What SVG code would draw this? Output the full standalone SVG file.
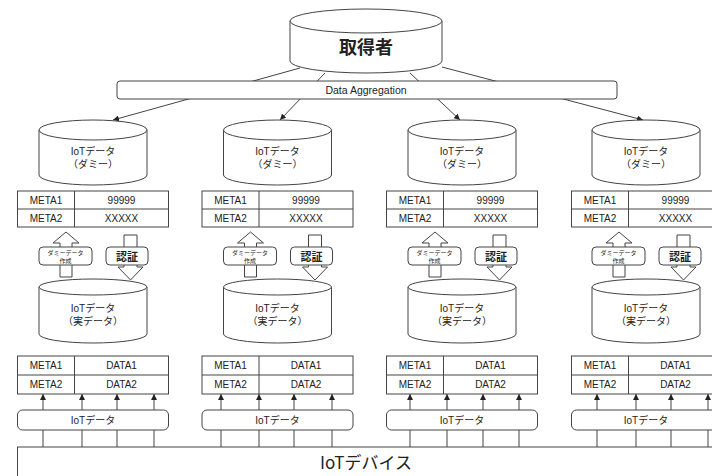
<svg xmlns="http://www.w3.org/2000/svg" width="712" height="476" viewBox="0 0 712 476">
<defs>
<style>
.s{fill:#fff;stroke:#444;stroke-width:1}
.ln{fill:none;stroke:#444;stroke-width:1}
.t{font-family:"Liberation Sans","Noto Sans CJK JP",sans-serif;fill:#222;text-anchor:middle}
.j{font-family:"Noto Sans CJK JP",sans-serif;fill:#222;text-anchor:middle}
.m{font-size:10px}
.c{font-size:10px}
.sm{font-size:6px}
.a{marker-end:url(#ah)}
</style>
<marker id="ah" viewBox="0 0 10 10" refX="10" refY="5" markerWidth="6" markerHeight="6" markerUnits="userSpaceOnUse" orient="auto">
<path d="M0,0 L10,5 L0,10 z" fill="#222"/>
</marker>
</defs>
<rect width="712" height="476" fill="#fff"/>

<g id="connectors">
<line class="ln a" x1="300" y1="68" x2="113" y2="120"/>
<line class="ln a" x1="325" y1="73" x2="280" y2="120"/>
<line class="ln a" x1="410" y1="73" x2="460" y2="120"/>
<line class="ln a" x1="442" y1="67" x2="643" y2="120"/>
<polygon class="s" points="60,277 60,243 53,243 66,232 79,243 72,243 72,277"/>
<polygon class="s" points="124,235 137,235 137,267 143,267 130.5,280 118,267 124,267"/>
<polygon class="s" points="244.5,277 244.5,243 237.5,243 250.5,232 263.5,243 256.5,243 256.5,277"/>
<polygon class="s" points="308.5,235 321.5,235 321.5,267 327.5,267 315,280 302.5,267 308.5,267"/>
<polygon class="s" points="429,277 429,243 422,243 435,232 448,243 441,243 441,277"/>
<polygon class="s" points="493,235 506,235 506,267 512,267 499.5,280 487,267 493,267"/>
<polygon class="s" points="613,277 613,243 606,243 619,232 632,243 625,243 625,277"/>
<polygon class="s" points="677,235 690,235 690,267 696,267 683.5,280 671,267 677,267"/>
<line class="ln a" x1="43" y1="447" x2="43" y2="394"/>
<line class="ln a" x1="82" y1="447" x2="82" y2="394"/>
<line class="ln a" x1="117" y1="447" x2="117" y2="394"/>
<line class="ln a" x1="154" y1="447" x2="154" y2="394"/>
<line class="ln a" x1="221" y1="447" x2="221" y2="394"/>
<line class="ln a" x1="259" y1="447" x2="259" y2="394"/>
<line class="ln a" x1="294" y1="447" x2="294" y2="394"/>
<line class="ln a" x1="332" y1="447" x2="332" y2="394"/>
<line class="ln a" x1="410" y1="447" x2="410" y2="394"/>
<line class="ln a" x1="447" y1="447" x2="447" y2="394"/>
<line class="ln a" x1="483" y1="447" x2="483" y2="394"/>
<line class="ln a" x1="519" y1="447" x2="519" y2="394"/>
<line class="ln a" x1="597" y1="447" x2="597" y2="394"/>
<line class="ln a" x1="636" y1="447" x2="636" y2="394"/>
<line class="ln a" x1="671" y1="447" x2="671" y2="394"/>
<line class="ln a" x1="708" y1="447" x2="708" y2="394"/>
</g>

<g id="acquirer">
<path class="s" d="M290,21 V61 A76,12 0 0 0 442,61 V21"/>
<ellipse class="s" cx="366" cy="21" rx="76" ry="12"/>
<text class="j" x="366" y="54" font-size="18" font-weight="bold">取得者</text>
</g>

<g id="aggregation">
<rect class="s" x="117" y="81" width="500" height="18" rx="3"/>
<text class="t" x="366" y="94" font-size="10.5">Data Aggregation</text>
</g>

<g id="dummy1">
<path class="s" d="M39,130 V175 A54,10 0 0 0 147,175 V130"/>
<ellipse class="s" cx="93" cy="130" rx="54" ry="10"/>
<text class="t c" x="93" y="155">IoTデータ</text>
<text class="t c" x="93" y="168">（ダミー）</text>
</g>
<g id="meta1">
<rect class="s" x="17.5" y="191" width="151" height="36"/>
<line class="ln" x1="17.5" y1="209" x2="168.5" y2="209"/>
<line class="ln" x1="74.5" y1="191" x2="74.5" y2="227"/>
<text class="t m" x="46" y="204">META1</text><text class="t m" x="121.5" y="204">99999</text>
<text class="t m" x="46" y="222">META2</text><text class="t m" x="121.5" y="222">XXXXX</text>
</g>
<g id="mkdummy1">
<rect class="s" x="39" y="247" width="53" height="18" rx="4"/>
<text class="t sm" x="65.5" y="254.5">ダミーデータ</text>
<text class="t sm" x="65.5" y="262.5">作成</text>
</g>
<g id="auth1">
<rect class="s" x="106" y="247" width="42" height="18" rx="4"/>
<text class="j" x="127" y="260.5" font-size="11" font-weight="bold">認証</text>
</g>
<g id="real1">
<path class="s" d="M39,287 V334 A54,9 0 0 0 147,334 V287"/>
<ellipse class="s" cx="93" cy="287" rx="54" ry="8"/>
<text class="t c" x="93" y="312">IoTデータ</text>
<text class="t c" x="93" y="325">（実データ）</text>
</g>
<g id="data1">
<rect class="s" x="17.5" y="356" width="151" height="38"/>
<line class="ln" x1="17.5" y1="375" x2="168.5" y2="375"/>
<line class="ln" x1="74.5" y1="356" x2="74.5" y2="394"/>
<text class="t m" x="46" y="369">META1</text><text class="t m" x="121.5" y="369">DATA1</text>
<text class="t m" x="46" y="388">META2</text><text class="t m" x="121.5" y="388">DATA2</text>
</g>
<g id="iot1">
<rect class="s" x="17.5" y="410" width="151" height="20" rx="5"/>
<text class="t c" x="93" y="424">IoTデータ</text>
</g>

<g id="dummy2">
<path class="s" d="M223.5,130 V175 A54,10 0 0 0 331.5,175 V130"/>
<ellipse class="s" cx="277.5" cy="130" rx="54" ry="10"/>
<text class="t c" x="277.5" y="155">IoTデータ</text>
<text class="t c" x="277.5" y="168">（ダミー）</text>
</g>
<g id="meta2">
<rect class="s" x="202" y="191" width="151" height="36"/>
<line class="ln" x1="202" y1="209" x2="353" y2="209"/>
<line class="ln" x1="259" y1="191" x2="259" y2="227"/>
<text class="t m" x="230.5" y="204">META1</text><text class="t m" x="306" y="204">99999</text>
<text class="t m" x="230.5" y="222">META2</text><text class="t m" x="306" y="222">XXXXX</text>
</g>
<g id="mkdummy2">
<rect class="s" x="223.5" y="247" width="53" height="18" rx="4"/>
<text class="t sm" x="250" y="254.5">ダミーデータ</text>
<text class="t sm" x="250" y="262.5">作成</text>
</g>
<g id="auth2">
<rect class="s" x="290.5" y="247" width="42" height="18" rx="4"/>
<text class="j" x="311.5" y="260.5" font-size="11" font-weight="bold">認証</text>
</g>
<g id="real2">
<path class="s" d="M223.5,287 V334 A54,9 0 0 0 331.5,334 V287"/>
<ellipse class="s" cx="277.5" cy="287" rx="54" ry="8"/>
<text class="t c" x="277.5" y="312">IoTデータ</text>
<text class="t c" x="277.5" y="325">（実データ）</text>
</g>
<g id="data2">
<rect class="s" x="202" y="356" width="151" height="38"/>
<line class="ln" x1="202" y1="375" x2="353" y2="375"/>
<line class="ln" x1="259" y1="356" x2="259" y2="394"/>
<text class="t m" x="230.5" y="369">META1</text><text class="t m" x="306" y="369">DATA1</text>
<text class="t m" x="230.5" y="388">META2</text><text class="t m" x="306" y="388">DATA2</text>
</g>
<g id="iot2">
<rect class="s" x="202" y="410" width="151" height="20" rx="5"/>
<text class="t c" x="277.5" y="424">IoTデータ</text>
</g>

<g id="dummy3">
<path class="s" d="M408,130 V175 A54,10 0 0 0 516,175 V130"/>
<ellipse class="s" cx="462" cy="130" rx="54" ry="10"/>
<text class="t c" x="462" y="155">IoTデータ</text>
<text class="t c" x="462" y="168">（ダミー）</text>
</g>
<g id="meta3">
<rect class="s" x="386.5" y="191" width="151" height="36"/>
<line class="ln" x1="386.5" y1="209" x2="537.5" y2="209"/>
<line class="ln" x1="443.5" y1="191" x2="443.5" y2="227"/>
<text class="t m" x="415" y="204">META1</text><text class="t m" x="490.5" y="204">99999</text>
<text class="t m" x="415" y="222">META2</text><text class="t m" x="490.5" y="222">XXXXX</text>
</g>
<g id="mkdummy3">
<rect class="s" x="408" y="247" width="53" height="18" rx="4"/>
<text class="t sm" x="434.5" y="254.5">ダミーデータ</text>
<text class="t sm" x="434.5" y="262.5">作成</text>
</g>
<g id="auth3">
<rect class="s" x="475" y="247" width="42" height="18" rx="4"/>
<text class="j" x="496" y="260.5" font-size="11" font-weight="bold">認証</text>
</g>
<g id="real3">
<path class="s" d="M408,287 V334 A54,9 0 0 0 516,334 V287"/>
<ellipse class="s" cx="462" cy="287" rx="54" ry="8"/>
<text class="t c" x="462" y="312">IoTデータ</text>
<text class="t c" x="462" y="325">（実データ）</text>
</g>
<g id="data3">
<rect class="s" x="386.5" y="356" width="151" height="38"/>
<line class="ln" x1="386.5" y1="375" x2="537.5" y2="375"/>
<line class="ln" x1="443.5" y1="356" x2="443.5" y2="394"/>
<text class="t m" x="415" y="369">META1</text><text class="t m" x="490.5" y="369">DATA1</text>
<text class="t m" x="415" y="388">META2</text><text class="t m" x="490.5" y="388">DATA2</text>
</g>
<g id="iot3">
<rect class="s" x="386.5" y="410" width="151" height="20" rx="5"/>
<text class="t c" x="462" y="424">IoTデータ</text>
</g>

<g id="dummy4">
<path class="s" d="M592,130 V175 A54,10 0 0 0 700,175 V130"/>
<ellipse class="s" cx="646" cy="130" rx="54" ry="10"/>
<text class="t c" x="646" y="155">IoTデータ</text>
<text class="t c" x="646" y="168">（ダミー）</text>
</g>
<g id="meta4">
<rect class="s" x="571.5" y="191" width="151" height="36"/>
<line class="ln" x1="571.5" y1="209" x2="722.5" y2="209"/>
<line class="ln" x1="628.5" y1="191" x2="628.5" y2="227"/>
<text class="t m" x="600" y="204">META1</text><text class="t m" x="675.5" y="204">99999</text>
<text class="t m" x="600" y="222">META2</text><text class="t m" x="675.5" y="222">XXXXX</text>
</g>
<g id="mkdummy4">
<rect class="s" x="592" y="247" width="53" height="18" rx="4"/>
<text class="t sm" x="618.5" y="254.5">ダミーデータ</text>
<text class="t sm" x="618.5" y="262.5">作成</text>
</g>
<g id="auth4">
<rect class="s" x="659" y="247" width="42" height="18" rx="4"/>
<text class="j" x="680" y="260.5" font-size="11" font-weight="bold">認証</text>
</g>
<g id="real4">
<path class="s" d="M592,287 V334 A54,9 0 0 0 700,334 V287"/>
<ellipse class="s" cx="646" cy="287" rx="54" ry="8"/>
<text class="t c" x="646" y="312">IoTデータ</text>
<text class="t c" x="646" y="325">（実データ）</text>
</g>
<g id="data4">
<rect class="s" x="571.5" y="356" width="151" height="38"/>
<line class="ln" x1="571.5" y1="375" x2="722.5" y2="375"/>
<line class="ln" x1="628.5" y1="356" x2="628.5" y2="394"/>
<text class="t m" x="600" y="369">META1</text><text class="t m" x="675.5" y="369">DATA1</text>
<text class="t m" x="600" y="388">META2</text><text class="t m" x="675.5" y="388">DATA2</text>
</g>
<g id="iot4">
<rect class="s" x="571.5" y="410" width="151" height="20" rx="5"/>
<text class="t c" x="646" y="424">IoTデータ</text>
</g>

<g id="device">
<rect class="s" x="17.5" y="447" width="720" height="40"/>
<text class="j" x="366" y="469" font-size="17">IoTデバイス</text>
</g>
</svg>
